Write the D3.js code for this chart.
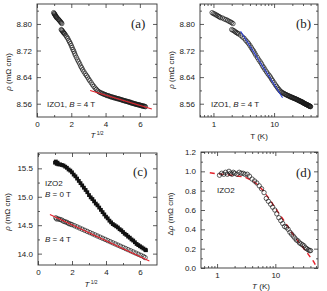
<!DOCTYPE html>
<html>
<head>
<meta charset="utf-8">
<script src="https://cdn.jsdelivr.net/npm/d3@7"></script>
<style>
  body { margin: 0; background: #fff; }
  svg text { font-family: "Liberation Sans", Arial, sans-serif; fill: #222; }
</style>
</head>
<body>
<div id="chart"></div>
<script>
// IZO1, B = 4 T : rho (mOhm cm) vs T (K)  -- used in (a) vs T^1/2 and (b) vs log T
var izo1T = [0.95,1.0,1.05,1.1,1.15,1.2,1.25,1.3,1.4,1.5,1.6,1.7,1.8,1.9,2.0,2.1,
  2.0,2.1,2.2,2.3,2.4,2.5,2.6,2.8,3.0,3.2,3.4,3.6,3.8,4.0,4.2,4.4,4.6,4.8,5.0,5.3,5.6,5.9,6.2,6.5,6.8,7.1,7.5,7.9,8.3,8.7,9.1,9.5,
  10,10.5,11,11.5,12,12.5,13,13.5,14,14.5,15,15.5,16,16.5,17,17.5,18,18.5,19,19.5,20,20.5,21,21.5,22,22.5,23,23.5,24,24.5,
  25,25.5,26,26.5,27,27.5,28,28.5,29,29.5,30,30.5,31,31.5,32,32.5,33,33.5,34,34.5,35,35.5,36,36.5,37,37.5,38,38.5,39,39.5,40];
var izo1Rho = [8.834,8.831,8.830,8.827,8.826,8.823,8.822,8.819,8.818,8.815,8.813,8.811,8.808,8.806,8.804,8.801,
  8.783,8.781,8.779,8.776,8.774,8.772,8.770,8.766,8.761,8.757,8.751,8.746,8.741,8.735,8.729,8.723,8.718,8.712,8.706,8.699,8.692,8.686,8.680,8.673,8.668,8.662,8.656,8.650,8.645,8.640,8.634,8.629,
  8.623,8.617,8.612,8.607,8.603,8.599,8.596,8.594,8.592,8.591,8.589,8.588,8.587,8.585,8.584,8.584,8.582,8.581,8.580,8.580,8.578,8.578,8.577,8.576,8.575,8.575,8.574,8.573,8.572,8.572,
  8.570,8.570,8.569,8.568,8.568,8.567,8.566,8.566,8.564,8.565,8.563,8.562,8.562,8.561,8.560,8.560,8.559,8.558,8.558,8.557,8.557,8.556,8.556,8.555,8.554,8.554,8.553,8.553,8.552,8.552,8.551];

// fits
var fitA_x = [3.1, 6.7], fitA_y = [8.600, 8.544];     // red, (a)
var fitB_T = [2.8, 13.8], fitB_y = [8.778, 8.578];    // blue, (b)

// IZO2 (c): rho vs T^1/2
var izo2B0x = [1.0,1.05,1.1,1.15,1.2,1.3,1.4,1.5,1.6,1.7,1.8,1.9,2.0,2.1,2.2,2.3,2.4,2.5,2.6,2.7,2.8,2.9,3.0,3.1,3.2,3.3,3.4,3.5,3.6,3.7,3.8,3.9,4.0,4.1,4.2,4.3,4.4,4.5,4.6,4.7,4.8,4.9,5.0,5.1,5.2,5.3,5.4,5.5,5.6,5.7,5.8,5.9,6.0,6.1,6.2,6.3,6.35];
var izo2B0y = [15.60,15.62,15.58,15.60,15.57,15.57,15.56,15.55,15.53,15.51,15.48,15.46,15.43,15.39,15.36,15.32,15.28,15.24,15.20,15.16,15.12,15.08,15.03,14.99,14.96,14.92,14.88,14.85,14.81,14.77,14.73,14.69,14.65,14.62,14.58,14.55,14.52,14.50,14.48,14.46,14.43,14.41,14.38,14.35,14.33,14.30,14.28,14.25,14.23,14.20,14.17,14.15,14.13,14.11,14.09,14.07,14.06];
var izo2B4x = [1.05,1.1,1.2,1.3,1.4,1.5,1.6,1.7,1.8,1.9,2.0,2.15,2.3,2.45,2.6,2.75,2.9,3.05,3.2,3.35,3.5,3.65,3.8,3.95,4.1,4.25,4.4,4.55,4.7,4.85,5.0,5.15,5.3,5.45,5.6,5.75,5.9,6.05,6.2,6.3];
var izo2B4y = [14.63,14.61,14.61,14.60,14.59,14.57,14.56,14.55,14.53,14.52,14.51,14.49,14.47,14.45,14.43,14.41,14.39,14.37,14.35,14.33,14.31,14.29,14.27,14.25,14.23,14.21,14.19,14.17,14.15,14.13,14.11,14.09,14.07,14.05,14.03,14.01,13.99,13.97,13.95,13.93];
var fitC_x = [0.7, 6.55], fitC_y = [14.69, 13.87];

// IZO2 (d): delta rho vs T
var dT = [1.1,1.2,1.3,1.4,1.5,1.6,1.7,1.8,1.9,2.0,2.2,2.4,2.6,2.8,3.0,3.3,3.6,4.0,4.4,4.8,5.3,5.8,6.4,7.0,7.6,8.3,9.0,9.8,10.6,11.5,12.4,13.4,14.4,15.5,16.6,17.8,19,20.3,21.6,23,24.5,26,27.6,29.2,31,32.8,34.6,36.5,38.4,40.3];
var dRho = [0.96,0.98,0.97,0.99,0.97,1.00,0.98,0.97,0.99,0.98,0.97,0.99,0.98,0.98,0.97,0.97,0.95,0.92,0.90,0.88,0.85,0.82,0.78,0.72,0.69,0.66,0.63,0.60,0.56,0.52,0.49,0.46,0.43,0.42,0.40,0.37,0.35,0.33,0.31,0.29,0.28,0.26,0.25,0.24,0.23,0.21,0.20,0.19,0.18,0.18];
var modelT = [0.75,1,1.5,2,3,4,5,6,8,10,13,16,20,25,30,35,40,45,50];
var modelRho = [0.985,0.975,0.965,0.955,0.94,0.905,0.86,0.81,0.71,0.62,0.52,0.44,0.35,0.27,0.21,0.16,0.11,0.07,0.02];

var W = 327, H = 291;
var svg = d3.select("#chart").append("svg").attr("width", W).attr("height", H);

// frame + inward ticks on all four sides
function frame(x, y, o) {
  var g = svg.append("g");
  var xr = x.range(), yr = y.range();
  var fs = "8px";
  g.append("g").attr("transform", "translate(0," + yr[0] + ")")
    .call(d3.axisBottom(x).tickValues(o.xMajor).tickSize(-4).tickPadding(4).tickFormat(o.xFmt));
  g.append("g").attr("transform", "translate(0," + yr[0] + ")")
    .call(d3.axisBottom(x).tickValues(o.xMinor).tickSize(-2).tickFormat(""));
  g.append("g").attr("transform", "translate(0," + yr[1] + ")")
    .call(d3.axisTop(x).tickValues(o.xMajor).tickSize(-4).tickFormat(""));
  g.append("g").attr("transform", "translate(0," + yr[1] + ")")
    .call(d3.axisTop(x).tickValues(o.xMinor).tickSize(-2).tickFormat(""));
  g.append("g").attr("transform", "translate(" + xr[0] + ",0)")
    .call(d3.axisLeft(y).tickValues(o.yMajor).tickSize(-4).tickPadding(5).tickFormat(o.yFmt));
  g.append("g").attr("transform", "translate(" + xr[0] + ",0)")
    .call(d3.axisLeft(y).tickValues(o.yMinor).tickSize(-2).tickFormat(""));
  g.append("g").attr("transform", "translate(" + xr[1] + ",0)")
    .call(d3.axisRight(y).tickValues(o.yMajor).tickSize(-4).tickFormat(""));
  g.append("g").attr("transform", "translate(" + xr[1] + ",0)")
    .call(d3.axisRight(y).tickValues(o.yMinor).tickSize(-2).tickFormat(""));
  g.selectAll(".domain").remove();
  g.selectAll(".tick line").attr("stroke", "#333").attr("stroke-width", 0.8);
  g.selectAll(".tick text").style("font-size", fs).style("font-family", "Liberation Sans, Arial, sans-serif").attr("fill", "#222");
  g.append("rect")
    .attr("x", xr[0]).attr("y", yr[1])
    .attr("width", xr[1] - xr[0]).attr("height", yr[0] - yr[1])
    .attr("fill", "none").attr("stroke", "#333").attr("stroke-width", 0.9);
  return g;
}

function circles(xs, ys, fx, fy) {
  svg.append("g").selectAll("circle")
    .data(xs.map(function(v, i) { return [v, ys[i]]; }))
    .join("circle")
      .attr("cx", function(d) { return fx(d[0]); })
      .attr("cy", function(d) { return fy(d[1]); })
      .attr("r", 2.2)
      .attr("fill", "none")
      .attr("stroke", "#1a1a1a")
      .attr("stroke-width", 0.7);
}

function fitLine(xs, ys, fx, fy, color, dash) {
  var line = d3.line().x(function(d) { return fx(d[0]); }).y(function(d) { return fy(d[1]); });
  svg.append("path")
    .datum(xs.map(function(v, i) { return [v, ys[i]]; }))
    .attr("d", line)
    .attr("fill", "none")
    .attr("stroke", color)
    .attr("stroke-width", dash ? 1.4 : 1.1)
    .attr("stroke-dasharray", dash || null);
}

function ylabel(x, y, prefix) {
  var t = svg.append("text")
    .attr("transform", "translate(" + x + "," + y + ") rotate(-90)")
    .attr("text-anchor", "middle")
    .style("font-size", "8px");
  if (prefix) t.append("tspan").text(prefix);
  t.append("tspan").style("font-style", "italic").text("ρ");
  t.append("tspan").text(" (mΩ cm)");
}

function xlabelSqrt(x, y) {
  var t = svg.append("text").attr("x", x).attr("y", y).attr("text-anchor", "middle").style("font-size", "8px");
  t.append("tspan").style("font-style", "italic").text("T");
  t.append("tspan").attr("dy", -3).style("font-size", "5px").text(" 1/2");
}

function tag(x, y, s) {
  svg.append("text").attr("x", x).attr("y", y)
    .style("font-family", "Liberation Serif, Times New Roman, serif")
    .style("font-size", "13px").text(s);
}

function note(x, y, pre, B, post) {
  var t = svg.append("text").attr("x", x).attr("y", y).style("font-size", "8px");
  t.append("tspan").text(pre);
  t.append("tspan").style("font-style", "italic").text(B);
  t.append("tspan").text(post);
}

var fmt2 = d3.format(".2f"), fmt1 = d3.format(".1f");
var logFmt = function(d) { return d === 1 || d === 10 ? String(d) : ""; };
var logMinor = [0.6,0.7,0.8,0.9,2,3,4,5,6,7,8,9,20,30,40,50];

// ---- (a)
var xa = d3.scaleLinear().domain([0, 7]).range([37, 157]);
var ya = d3.scaleLinear().domain([8.52, 8.86]).range([117, 4]);
frame(xa, ya, { xMajor: [0,2,4,6], xMinor: [1,3,5], yMajor: [8.56,8.64,8.72,8.80], yMinor: [8.60,8.68,8.76,8.84], xFmt: d3.format("d"), yFmt: fmt2 });
circles(izo1T.map(Math.sqrt), izo1Rho, xa, ya);
fitLine(fitA_x, fitA_y, xa, ya, "#e4202a");
tag(131, 28, "(a)");
note(47, 107, "IZO1, ", "B", " = 4 T");
ylabel(11, 72);
xlabelSqrt(97, 138);

// ---- (b)
var xb = d3.scaleLog().domain([0.6, 53]).range([200, 318]);
var yb = d3.scaleLinear().domain([8.52, 8.86]).range([117, 4]);
frame(xb, yb, { xMajor: [1,10], xMinor: logMinor, yMajor: [8.56,8.64,8.72,8.80], yMinor: [8.60,8.68,8.76,8.84], xFmt: logFmt, yFmt: fmt2 });
circles(izo1T, izo1Rho, xb, yb);
fitLine(fitB_T, fitB_y, xb, yb, "#2b3fd6");
tag(296, 28, "(b)");
note(211, 107, "IZO1, ", "B", " = 4 T");
ylabel(174, 70);
svg.append("text").attr("x", 259).attr("y", 139).attr("text-anchor", "middle").style("font-size", "8px").text("T (K)");

// ---- (c)
var xc = d3.scaleLinear().domain([0, 7]).range([38, 157]);
var yc = d3.scaleLinear().domain([13.8, 15.77]).range([265, 153]);
frame(xc, yc, { xMajor: [0,2,4,6], xMinor: [1,3,5], yMajor: [14.0,14.5,15.0,15.5], yMinor: [14.25,14.75,15.25,15.75], xFmt: d3.format("d"), yFmt: fmt1 });
svg.append("g").selectAll("rect")
  .data(izo2B0x.map(function(v, i) { return [v, izo2B0y[i]]; }))
  .join("rect")
    .attr("x", function(d) { return xc(d[0]) - 1.9; })
    .attr("y", function(d) { return yc(d[1]) - 1.9; })
    .attr("width", 3.8).attr("height", 3.8)
    .attr("fill", "#111");
circles(izo2B4x, izo2B4y, xc, yc);
fitLine(fitC_x, fitC_y, xc, yc, "#e4202a");
tag(133, 176, "(c)");
svg.append("text").attr("x", 45).attr("y", 186).style("font-size", "8px").text("IZO2");
note(45, 197, "", "B", " = 0 T");
note(45, 242, "", "B", " = 4 T");
ylabel(10, 212);
xlabelSqrt(91, 287);

// ---- (d)
var xd = d3.scaleLog().domain([0.53, 54]).range([201, 318]);
var yd = d3.scaleLinear().domain([0, 1.2]).range([268, 152]);
frame(xd, yd, { xMajor: [1,10], xMinor: logMinor, yMajor: [0,0.2,0.4,0.6,0.8,1.0,1.2], yMinor: [0.1,0.3,0.5,0.7,0.9,1.1], xFmt: logFmt, yFmt: fmt1 });
fitLine(modelT, modelRho, xd, yd, "#e4202a", "5,4");
circles(dT, dRho, xd, yd);
tag(296, 177, "(d)");
svg.append("text").attr("x", 217).attr("y", 193).style("font-size", "8px").text("IZO2");
ylabel(173, 214, "Δ");
var tx = svg.append("text").attr("x", 261).attr("y", 289).attr("text-anchor", "middle").style("font-size", "8px");
tx.append("tspan").style("font-style", "italic").text("T");
tx.append("tspan").text(" (K)");
</script>
</body>
</html>
